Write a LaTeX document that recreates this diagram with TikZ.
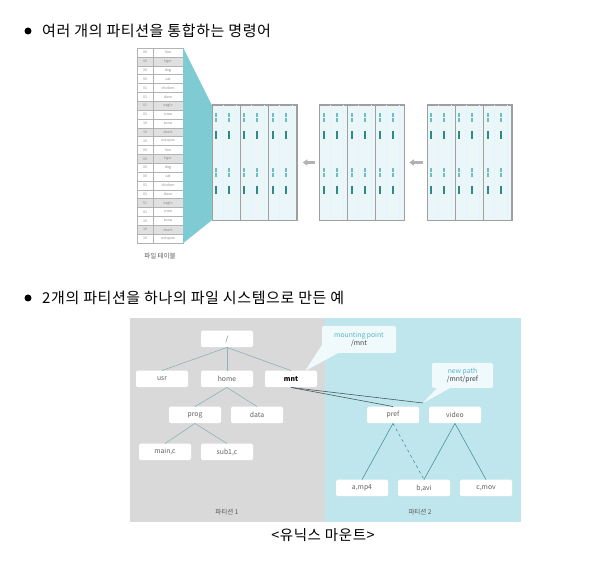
\documentclass[tikz,border=0pt]{standalone}
\usepackage{fontspec}
\setmainfont{Noto Sans CJK KR}
\newfontfamily\headfont[LetterSpace=4]{Noto Sans CJK KR}
\usepackage{tikz}
\usetikzlibrary{arrows.meta, positioning}

\definecolor{tealfan}{HTML}{7FCBD4}
\definecolor{panelbg}{HTML}{EAF6F8}
\definecolor{marklt}{HTML}{6CBFC0}
\definecolor{markdk}{HTML}{2E8A86}
\definecolor{bggray}{HTML}{D9D9D9}
\definecolor{bgteal}{HTML}{BFE6EC}
\definecolor{linegray}{HTML}{8DB3B6}
\definecolor{lineteal}{HTML}{4F9099}
\definecolor{linemnt}{HTML}{4A5A5E}
\definecolor{callbg}{HTML}{F0FAFC}
\definecolor{calltxt}{HTML}{55B5C6}

\begin{document}
\begin{tikzpicture}[x=1pt, y=-1pt,
    heading/.style={anchor=west, inner sep=0pt, font=\headfont\fontsize{15}{17}\selectfont},
    bullet/.style={circle, fill=black, inner sep=0pt, minimum size=7pt},
    cell/.style={draw=gray!60, line width=0.3pt, inner sep=0pt, minimum height=8.86pt, font=\fontsize{3.6}{4}\selectfont, text=gray!90},
    panel/.style={draw=gray!75, fill=panelbg, line width=0.5pt, minimum width=84.5pt, minimum height=115pt, inner sep=0pt},
    garrow/.style={-{Triangle[length=4.5pt, width=6pt]}, line width=2.4pt, gray!60},
    fnode/.style={fill=white, rounded corners=1.5pt, minimum width=52pt, minimum height=16.5pt, inner sep=0pt, font=\fontsize{6.8}{7}\selectfont, text=gray!75!black},
    callout/.style={fill=callbg, rounded corners=2pt, inner sep=0pt, align=center, font=\fontsize{6.8}{8.5}\selectfont},
    small/.style={font=\fontsize{6.5}{7}\selectfont, text=gray!70!black}]
    \useasboundingbox (0,0) rectangle (598,561);

    % Heading 1
    \node[bullet] (b1) at (28,31) {};
    \node[heading] (h1) at (42,31) {여러 개의 파티션을 통합하는 명령어};

    % File table
    \node[inner sep=0pt, minimum width=46pt, minimum height=195pt] (tbl) at (160,145.5) {};
    \foreach \k/\v/\s [count=\i] in {00/lion/0, 00/tiger/12, 00/dog/0, 00/cat/0, 01/chicken/0, 01/dove/0, 01/eagle/12, 01/crow/0, 10/tuna/0, 10/shark/12, 10/octopus/0,
                                    00/lion/0, 00/tiger/12, 00/dog/0, 00/cat/0, 01/chicken/0, 01/dove/0, 01/eagle/12, 01/crow/0, 10/tuna/0, 10/shark/12, 10/octopus/0} {
        \node[cell, fill=black!\s, minimum width=16pt] (k\i) at (145,{48+8.86*(\i-0.5)}) {\k};
        \node[cell, fill=black!\s, minimum width=30pt] (v\i) at (168,{48+8.86*(\i-0.5)}) {\v};
    }
    \node[small] (tlabel) at (160,256) {파일 테이블};

    % Partition panels
    \node[panel] (g1) at (254.25,162.5) {};
    \node[panel] (g2) at (361.75,162.5) {};
    \node[panel] (g3) at (469.25,162.5) {};
    \fill[tealfan] (tbl.north east) -- (g1.north west) -- (g1.south west) -- (tbl.south east) -- cycle;
    \foreach \g in {g1,g2,g3} {
        \foreach \c in {0,1,2} {
            \draw[cyan!12, line width=0.4pt] ([xshift={28.2*\c+11}]\g.north west) -- ([xshift={28.2*\c+11}]\g.south west);
            \draw[cyan!12, line width=0.4pt] ([xshift={28.2*\c+24}]\g.north west) -- ([xshift={28.2*\c+24}]\g.south west);
            \foreach \m in {4.5,17.5} {
                \foreach \yy in {8,63} {
                    \fill[marklt] ([xshift={28.2*\c+\m-1}, yshift={-\yy}]\g.north west) rectangle ++(2,4);
                    \fill[marklt] ([xshift={28.2*\c+\m-1}, yshift={-\yy-5.5}]\g.north west) rectangle ++(2,4);
                    \fill[markdk] ([xshift={28.2*\c+\m-1}, yshift={-\yy-18}]\g.north west) rectangle ++(2,8);
                }
            }
        }
        \draw[gray!75, line width=0.6pt] ([xshift=28.2pt]\g.north west) -- ([xshift=28.2pt]\g.south west);
        \draw[gray!75, line width=0.6pt] ([xshift=56.4pt]\g.north west) -- ([xshift=56.4pt]\g.south west);
        \draw[gray!75, line width=0.5pt] (\g.north west) rectangle (\g.south east);
    }

    % Arrows
    \draw[garrow, shorten <=4pt, shorten >=6pt] (g2.west) -- (g1.east);
    \draw[garrow, shorten <=4pt, shorten >=5pt] (g3.west) -- (g2.east);

    % Heading 2
    \node[bullet] (b2) at (28,298) {};
    \node[heading] (h2) at (42,298) {2개의 파티션을 하나의 파일 시스템으로 만든 예};

    % Two partitions
    \fill[bggray] (130,318) rectangle (325,522);
    \fill[bgteal] (325,318) rectangle (521,522);

    % Partition 1 tree
    \node[fnode] (root) at (227,339) {/};
    \node[fnode] (usr) at (162,379) {usr};
    \node[fnode] (home) at (227,379) {home};
    \node[fnode, font=\fontsize{6.8}{7}\selectfont\bfseries, text=black] (mnt) at (291,379) {mnt};
    \node[fnode] (prog) at (195,415) {prog};
    \node[fnode] (data) at (257,415) {data};
    \node[fnode] (mainc) at (165,452) {main,c};
    \node[fnode] (subc) at (227,452) {sub1,c};
    \node[small] (p1) at (227,512) {파티션 1};

    % Partition 2 tree
    \node[fnode] (pref) at (393,415) {pref};
    \node[fnode] (video) at (455,415) {video};
    \node[fnode] (amp) at (362,488) {a,mp4};
    \node[fnode] (bavi) at (424,488) {b,avi};
    \node[fnode] (cmov) at (486,488) {c,mov};
    \node[small] (p2) at (420,512) {파티션 2};

    % Callouts
    \node[callout, minimum width=74pt, minimum height=27pt] (mp) at (359,339.5) {\textcolor{calltxt}{mounting point}\\\textcolor{black!75}{/mnt}};
    \coordinate (mptip) at (305,371);
    \fill[callbg] ([yshift=8pt]mp.south west) -- (mptip) -- ([xshift=16pt]mp.south west) -- cycle;
    \node[callout, minimum width=61pt, minimum height=25pt] (np) at (462.5,375.5) {\textcolor{calltxt}{new path}\\\textcolor{black!75}{/mnt/pref}};
    \coordinate (nptip) at (423,403);
    \fill[callbg] ([xshift=5pt]np.south west) -- (nptip) -- ([xshift=18pt]np.south west) -- cycle;

    % Connectors
    \draw[linegray, line width=0.6pt] (root.south) -- (usr.north);
    \draw[linegray, line width=0.6pt] (root.south) -- (home.north);
    \draw[linegray, line width=0.6pt] (root.south) -- (mnt.north);
    \draw[linegray, line width=0.6pt] (home.south) -- (prog.north);
    \draw[linegray, line width=0.6pt] (home.south) -- (data.north);
    \draw[linegray, line width=0.6pt] (prog.south) -- (mainc.north);
    \draw[linegray, line width=0.6pt] (prog.south) -- (subc.north);
    \draw[linemnt, line width=0.6pt] (mnt.south) -- (pref.north);
    \draw[linemnt, line width=0.6pt] (mnt.south) -- (nptip);
    \draw[lineteal, line width=0.6pt] (pref.south) -- (amp.north);
    \draw[lineteal, line width=0.6pt, dashed] (pref.south) -- (bavi.north);
    \draw[lineteal, line width=0.6pt] (video.south) -- (bavi.north);
    \draw[lineteal, line width=0.6pt] (video.south) -- (cmov.north);

    % Caption
    \node[font=\headfont\fontsize{14.5}{16}\selectfont] (cap) at (323,535) {<유닉스 마운트>};
\end{tikzpicture}
\end{document}
